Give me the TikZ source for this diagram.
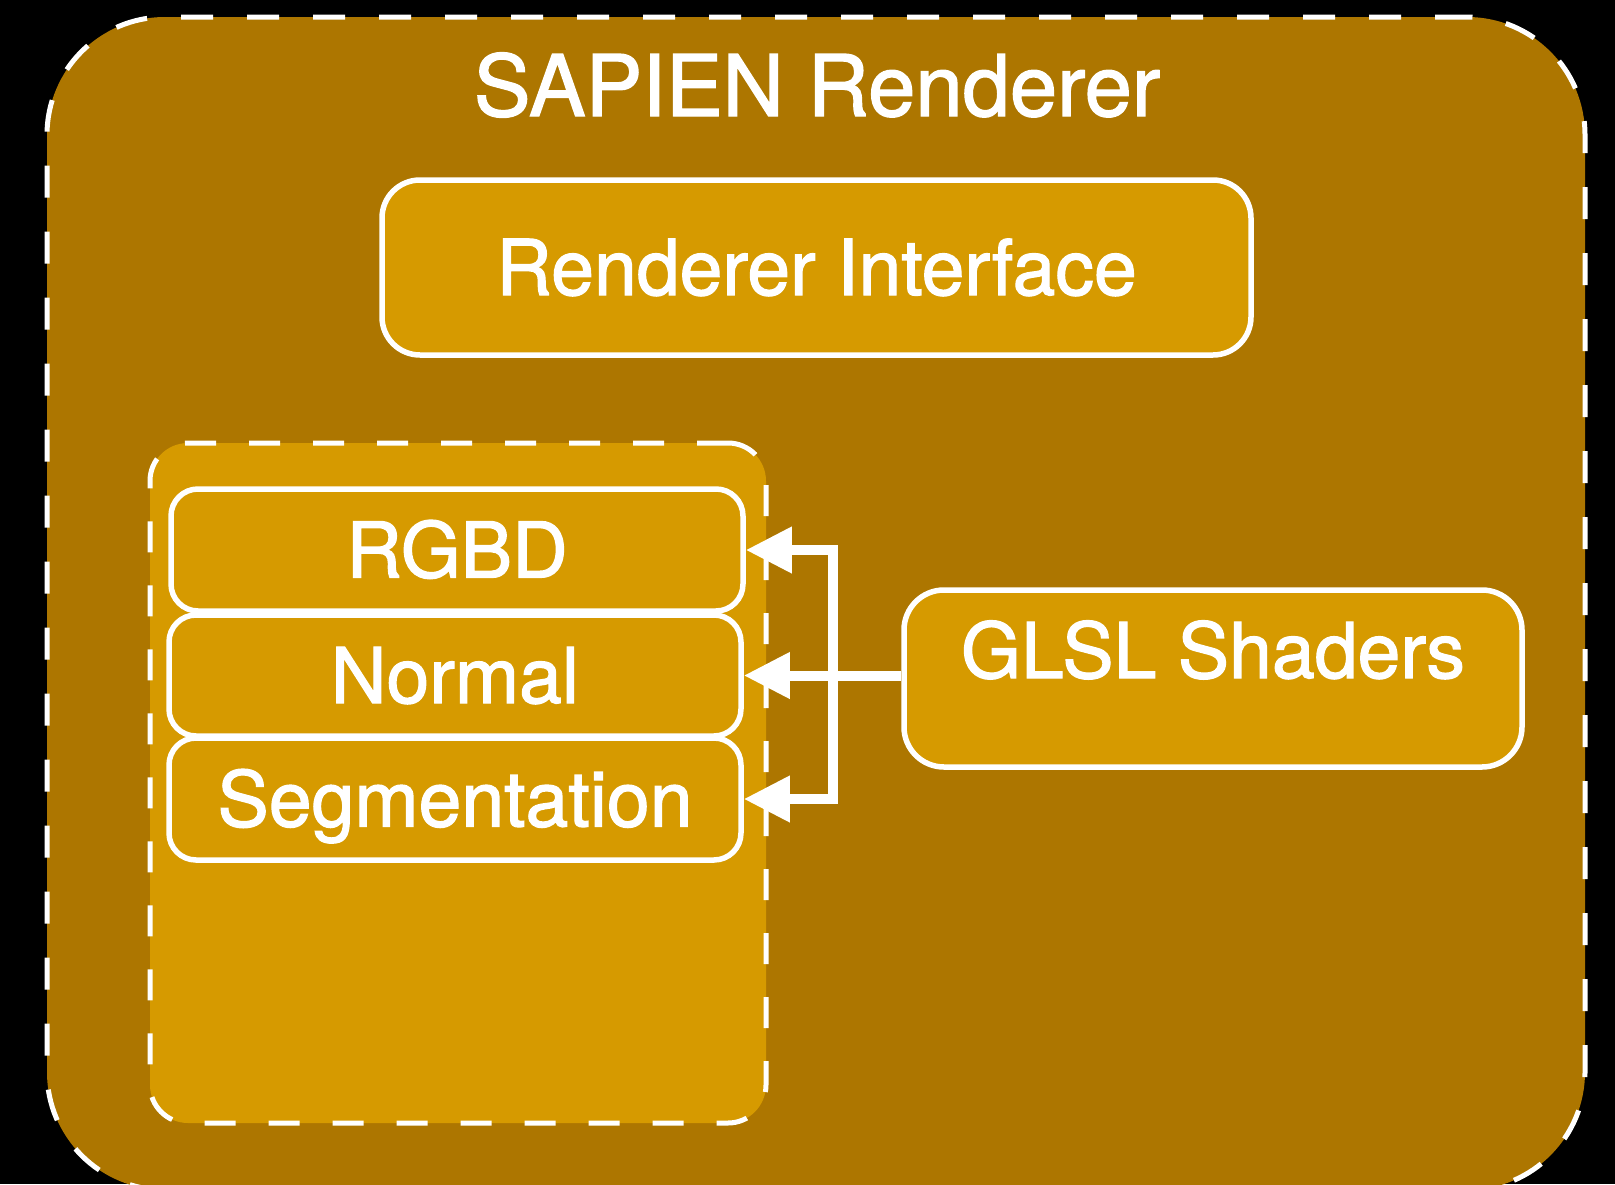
\documentclass[tikz,border=0pt]{standalone}
\usepackage{fontspec}
\setmainfont{TeX Gyre Heros}[FakeBold=1.6]
\usetikzlibrary{arrows.meta}
\definecolor{outerfill}{RGB}{173,118,0}
\definecolor{innerfill}{RGB}{214,154,0}
\begin{document}
\begin{tikzpicture}[x=1pt,y=-1pt,
  outerbox/.style={rectangle, draw=white, fill=outerfill, line width=5pt, dash pattern=on 32pt off 34pt, rounded corners=118pt, inner sep=0pt},
  groupbox/.style={rectangle, draw=white, fill=innerfill, line width=5pt, dash pattern=on 31pt off 33pt, rounded corners=38pt, inner sep=0pt},
  bigbox/.style={rectangle, draw=white, fill=innerfill, line width=5.5pt, rounded corners=38pt, inner sep=0pt, text=white},
  passbox/.style={rectangle, draw=white, fill=innerfill, line width=5.5pt, rounded corners=27pt, inner sep=0pt, text=white, minimum width=572pt},
  lbl/.style={text=white, font=\fontsize{77}{90}\selectfont, text height=55pt, text depth=0pt},
  titlelbl/.style={text=white, font=\fontsize{85}{100}\selectfont, inner sep=0pt, anchor=base},
  feed/.style={draw=white, line width=10pt, miter limit=10, -{Triangle[length=46pt,width=44pt]}}
]
\useasboundingbox[fill=black] (0,0) rectangle (1615,1184);
\node[outerbox, minimum width=1538pt, minimum height=1173pt] (outer) at (816,603.5) {};
\node[titlelbl] (title) at (817,116) {SAPIEN Renderer};
\node[bigbox, lbl, minimum width=869pt, minimum height=175pt] (ri) at (816.5,267.5) {Renderer Interface};
\node[groupbox, minimum width=616pt, minimum height=680pt] (group) at (458,783) {};
\node[passbox, lbl, minimum height=122pt] (rgbd) at (457,550) {RGBD};
\node[passbox, lbl, minimum height=121pt] (normal) at (455,675.5) {Normal};
\node[passbox, lbl, minimum height=122pt] (seg) at (455,799) {Segmentation};
\node[bigbox, minimum width=618pt, minimum height=177pt, rounded corners=40pt] (glsl) at (1213,678.5) {};
\node[text=white, font=\fontsize{77}{90}\selectfont, inner sep=0pt, anchor=base] (glsllabel) at (1213,678) {GLSL Shaders};
\coordinate (junc) at (833,675.5);
\draw[feed] (glsl.west |- normal.east) -- (normal.east);
\draw[feed] (junc) |- (rgbd.east);
\draw[feed] (junc) |- (seg.east);
\end{tikzpicture}
\end{document}
